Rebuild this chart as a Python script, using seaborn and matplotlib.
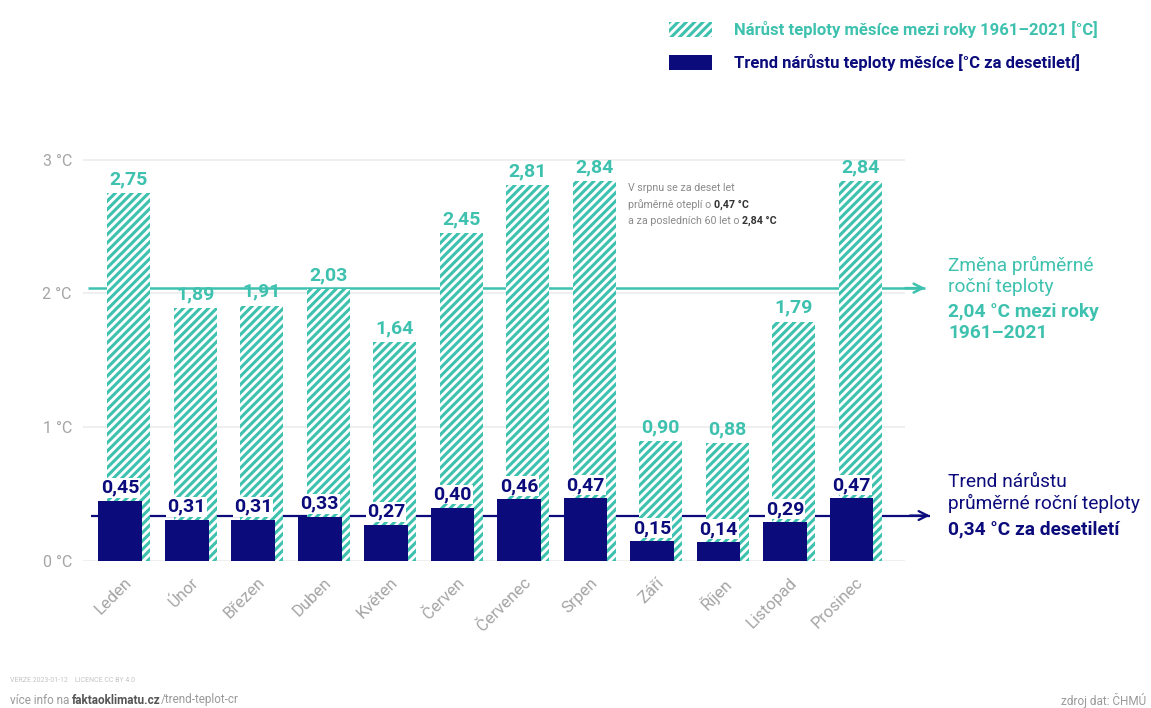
import numpy as np
import pandas as pd
import matplotlib
matplotlib.use("Agg")
import matplotlib.pyplot as plt
from matplotlib.patches import Patch
import seaborn as sns

# Monthly data, Czech Republic 1961–2021
months = ["Leden", "Únor", "Březen", "Duben", "Květen", "Červen",
          "Červenec", "Srpen", "Září", "Říjen", "Listopad", "Prosinec"]
increase_total = [2.75, 1.89, 1.91, 2.03, 1.64, 2.45, 2.81, 2.84, 0.90, 0.88, 1.79, 2.84]
trend_decade = [0.45, 0.31, 0.31, 0.33, 0.27, 0.40, 0.46, 0.47, 0.15, 0.14, 0.29, 0.47]
annual_increase = 2.04
annual_trend = 0.34
y_ticks = [0, 1, 2, 3]
y_tick_labels = ["0 °C", "1 °C", "2 °C", "3 °C"]

TEAL = "#3ec1ae"
NAVY = "#0b0b7c"
GRAY = "#a5a5a5"
GRID = "#ececec"

sns.set_theme(style="white")
plt.rcParams["font.family"] = ["Roboto", "DejaVu Sans"]
plt.rcParams["hatch.linewidth"] = 2.2

fig = plt.figure(figsize=(11.51, 7.08), dpi=100)
ax = fig.add_axes([0.072, 0.2076, 0.714, 0.5706])

idx = np.arange(len(months))
df_total = pd.DataFrame({"pos": idx + 0.07, "value": increase_total})
df_trend = pd.DataFrame({"pos": idx - 0.06, "value": trend_decade})

# hatched bars: total increase 1961–2021
sns.barplot(data=df_total, x="pos", y="value", native_scale=True, width=0.65,
            errorbar=None, color="white", ax=ax)
n_total = len(ax.patches)
for p in ax.patches:
    p.set_facecolor("white")
    p.set_edgecolor(TEAL)
    p.set_hatch("////")
    p.set_linewidth(0)
    p.set_zorder(3)

# solid bars: trend per decade
sns.barplot(data=df_trend, x="pos", y="value", native_scale=True, width=0.66,
            errorbar=None, color=NAVY, ax=ax)
for p in ax.patches[n_total:]:
    p.set_facecolor(NAVY)
    p.set_edgecolor(NAVY)
    p.set_linewidth(0)
    p.set_zorder(4)

ax.set_xlim(-0.62, 11.74)
ax.set_ylim(0, 3.02)
ax.set_yticks(y_ticks)
ax.set_yticklabels(y_tick_labels)
ax.set_xticks(idx)
ax.set_xticklabels(months, rotation=45, ha="right", rotation_mode="anchor")
ax.set_xlabel("")
ax.set_ylabel("")
ax.tick_params(axis="x", length=0, pad=10, labelsize=12, labelcolor=GRAY)
ax.tick_params(axis="y", length=0, pad=8, labelsize=11.5, labelcolor=GRAY)
for s in ax.spines.values():
    s.set_visible(False)
ax.grid(axis="y", color=GRID, linewidth=1.2, zorder=0)
ax.set_axisbelow(True)

# annual reference lines (behind the bars) ending in open arrowheads
for level, colour, x0, x1, lw in [(annual_increase, TEAL, -0.55, 12.05, 1.8),
                                  (annual_trend, NAVY, -0.5, 12.12, 1.6)]:
    ax.plot([x0, x1], [level, level], color=colour, lw=lw, zorder=1.5,
            clip_on=False, solid_capstyle="butt")
    ax.annotate("", xy=(x1, level), xytext=(x1 - 0.3, level), xycoords="data",
                annotation_clip=False, zorder=1.5,
                arrowprops=dict(arrowstyle="->", color=colour, lw=lw,
                                mutation_scale=16, shrinkA=0, shrinkB=0))

# value labels
for i, (t, d) in enumerate(zip(increase_total, trend_decade)):
    ax.text(i + 0.07, t + 0.035, f"{t:.2f}".replace(".", ","), ha="center", va="bottom",
            color=TEAL, fontsize=14, fontweight="bold", zorder=5)
    ax.text(i - 0.06, d + 0.03, f"{d:.2f}".replace(".", ","), ha="center", va="bottom",
            color=NAVY, fontsize=14, fontweight="bold", zorder=5,
            bbox=dict(boxstyle="square,pad=0.05", facecolor="white", edgecolor="none"))

# note about August
note_x, note_y = 628 / 1151, 1 - 188 / 708
lh = 16.5 / 708
note_kw = dict(fontsize=7.7, color="#8a8a8a", ha="left", va="center")
fig.text(note_x, note_y, "V srpnu se za deset let", **note_kw)
t1 = fig.text(note_x, note_y - lh, "průměrně oteplí o ", **note_kw)
ax.annotate("0,47 °C", xy=(1, 0.5), xycoords=t1, ha="left", va="center",
            fontsize=7.7, color="#333333", fontweight="bold")
t2 = fig.text(note_x, note_y - 2 * lh, "a za posledních 60 let o ", **note_kw)
ax.annotate("2,84 °C", xy=(1, 0.5), xycoords=t2, ha="left", va="center",
            fontsize=7.7, color="#333333", fontweight="bold")

# right-hand annual summaries
rx = 948 / 1151
fig.text(rx, 1 - 256 / 708, "Změna průměrné\nroční teploty", color=TEAL,
         fontsize=13.8, ha="left", va="top", linespacing=1.2)
fig.text(rx, 1 - 303 / 708, "2,04 °C mezi roky\n1961–2021", color=TEAL,
         fontsize=13.8, ha="left", va="top", linespacing=1.2, fontweight="bold")
fig.text(rx, 1 - 473 / 708, "Trend nárůstu\nprůměrné roční teploty", color=NAVY,
         fontsize=13.8, ha="left", va="top", linespacing=1.2)
fig.text(rx, 1 - 520 / 708, "0,34 °C za desetiletí", color=NAVY,
         fontsize=13.8, ha="left", va="top", fontweight="bold")

# legend
handles = [Patch(facecolor="white", edgecolor=TEAL, hatch="////", linewidth=0),
           Patch(facecolor=NAVY, edgecolor=NAVY, linewidth=0)]
labels = ["Nárůst teploty měsíce mezi roky 1961–2021 [°C]",
          "Trend nárůstu teploty měsíce [°C za desetiletí]"]
leg = fig.legend(handles, labels, loc="upper left",
                 bbox_to_anchor=(654 / 1151, 1 - 6 / 708), frameon=False,
                 prop=dict(weight="bold", size=12), labelcolor=[TEAL, NAVY],
                 handlelength=2.6, handleheight=1.0, handletextpad=1.3,
                 labelspacing=0.95)

# footer
fig.text(10 / 1151, 1 - 681 / 708, "VERZE 2023-01-12    LICENCE CC BY 4.0",
         fontsize=5, color="#c4c4c4", ha="left", va="center")
f1 = fig.text(10 / 1151, 1 - 700 / 708, "více info na ", fontsize=8.5,
              color="#9a9a9a", ha="left", va="center")
f2 = ax.annotate("faktaoklimatu.cz", xy=(1, 0.5), xycoords=f1, ha="left", va="center",
                 fontsize=8.5, color="#555555", fontweight="bold")
ax.annotate("/trend-teplot-cr", xy=(1, 0.5), xycoords=f2, ha="left", va="center",
            fontsize=8.5, color="#9a9a9a")
fig.text(1146 / 1151, 1 - 700 / 708, "zdroj dat: ČHMÚ", fontsize=8.5,
         color="#9a9a9a", ha="right", va="center")

fig.savefig("out.png", dpi=100, facecolor="white")
